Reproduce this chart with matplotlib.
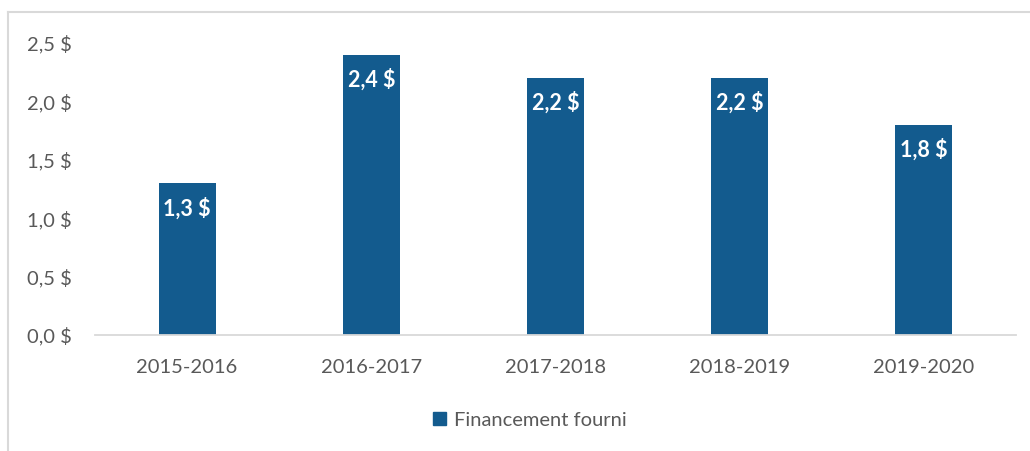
import matplotlib.pyplot as plt
from matplotlib.lines import Line2D
from matplotlib.patches import Patch

# Données (milliards $)
annees = ['2015-2016', '2016-2017', '2017-2018', '2018-2019', '2019-2020']
financement = [1.3, 2.4, 2.2, 2.2, 1.8]
etiquettes = ['1,3 $', '2,4 $', '2,2 $', '2,2 $', '1,8 $']
graduations = [0.0, 0.5, 1.0, 1.5, 2.0, 2.5]
graduations_txt = ['0,0 $', '0,5 $', '1,0 $', '1,5 $', '2,0 $', '2,5 $']

bleu = '#135B8E'
gris_txt = '#595959'

plt.rcParams['font.family'] = ['Lato', 'DejaVu Sans']

fig = plt.figure(figsize=(10.3, 4.51), dpi=100)
ax = fig.add_axes([95 / 1030, 1 - 335 / 451, (1016 - 95) / 1030, (335 - 43) / 451])

x = range(len(annees))
barres = ax.bar(x, financement, width=0.31, color=bleu)

for b, txt in zip(barres, etiquettes):
    ax.annotate(txt, (b.get_x() + b.get_width() / 2, b.get_height()),
                xytext=(0, -25), textcoords='offset pixels',
                ha='center', va='center', color='white', fontsize=15.5, fontweight='bold')

ax.set_xlim(-0.5, len(annees) - 0.5)
ax.set_ylim(0, 2.5)
ax.set_xticks(list(x))
ax.set_xticklabels(annees, fontsize=14.5, color=gris_txt)
ax.set_yticks(graduations)
ax.set_yticklabels(graduations_txt, fontsize=14.5, color=gris_txt)
ax.tick_params(length=0)
ax.tick_params(axis='x', pad=17)
ax.tick_params(axis='y', pad=16.5)

for s in ['top', 'right', 'left']:
    ax.spines[s].set_visible(False)
ax.spines['bottom'].set_color('#D9D9D9')
ax.spines['bottom'].set_linewidth(1.3)

leg = fig.legend(handles=[Patch(color=bleu, label='Financement fourni')],
                 loc='center', bbox_to_anchor=(530 / 1030, 1 - 420 / 451),
                 frameon=False, fontsize=14.5, handlelength=0.65, handleheight=0.65,
                 handletextpad=0.4)
for t in leg.get_texts():
    t.set_color(gris_txt)

# cadre gris du graphique
fig.add_artist(Line2D([8 / 1030, 1], [1 - 12 / 451, 1 - 12 / 451],
                      transform=fig.transFigure, color='#D9D9D9', lw=1.5))
fig.add_artist(Line2D([8 / 1030, 8 / 1030], [0, 1 - 12 / 451],
                      transform=fig.transFigure, color='#D9D9D9', lw=1.5))

fig.savefig('out.png', dpi=100)
